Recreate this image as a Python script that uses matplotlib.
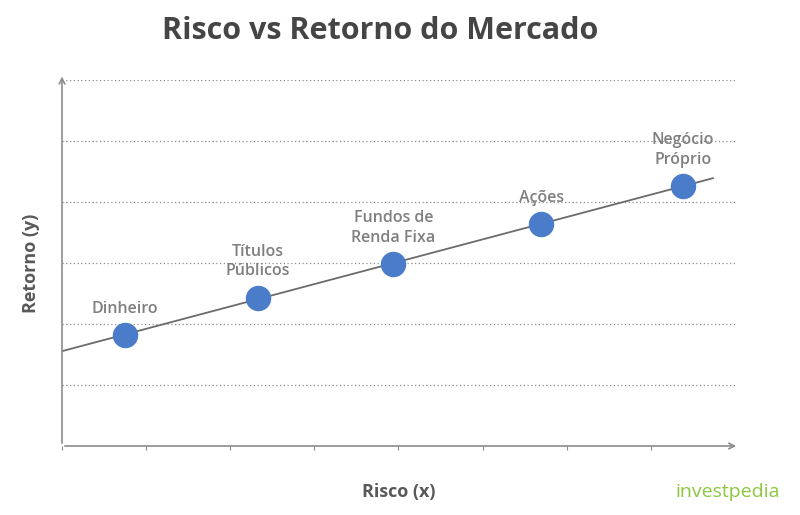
import matplotlib
matplotlib.use("Agg")
import matplotlib.pyplot as plt
import numpy as np

categories = ["Dinheiro", "Títulos\nPúblicos", "Fundos de\nRenda Fixa", "Ações", "Negócio\nPróprio"]
risco = [0.75, 2.33, 3.94, 5.7, 7.38]
retorno = [1.82, 2.43, 2.98, 3.64, 4.26]

plt.rcParams['font.family'] = ['Open Sans', 'DejaVu Sans']
fig = plt.figure(figsize=(8, 5.15), dpi=100)
ax = fig.add_axes([0.0775, 0.134, 0.841, 0.711])
ax.set_xlim(0, 8)
ax.set_ylim(0, 6)

for y in range(1, 7):
    ax.axhline(y, color='#8c8c8c', lw=0.9, ls=(0, (1, 2)), zorder=1)

m, b = np.polyfit(risco, retorno, 1)
xs = np.array([0, 7.74])
ax.plot(xs, m * xs + b, color='#6b6b6b', lw=1.3, zorder=2)
ax.scatter(risco, retorno, s=300, color='#4a7cc9', zorder=3)

for x, y, lab in zip(risco, retorno, categories):
    ax.text(x, y + 0.3, lab, ha='center', va='bottom', fontsize=11.5,
            color='#7f7f7f', linespacing=1.3, fontweight='semibold')

for s in ax.spines.values():
    s.set_visible(False)
ax.annotate('', xy=(8.05, 0), xytext=(0, 0), xycoords='data',
            arrowprops=dict(arrowstyle='->', color='#8c8c8c', lw=1.2), annotation_clip=False)
ax.annotate('', xy=(0, 6.1), xytext=(0, 0),
            arrowprops=dict(arrowstyle='->', color='#8c8c8c', lw=1.2), annotation_clip=False)
ax.set_xticks(np.arange(0, 8, 1))
ax.set_xticklabels([])
ax.set_yticks([])
ax.tick_params(axis='x', length=3, color='#8c8c8c', direction='out')

ax.set_xlabel('Risco (x)', fontsize=13, fontweight='bold', color='#595959', labelpad=20)
ax.set_ylabel('Retorno (y)', fontsize=13, fontweight='bold', color='#595959', labelpad=16)
fig.text(0.475, 0.94, 'Risco vs Retorno do Mercado', ha='center', va='center',
         fontsize=22, fontweight='bold', color='#454545')
fig.text(0.975, 0.045, 'investpedia', ha='right', va='center', fontsize=14, color='#8cc63f')
fig.savefig('out.png', dpi=100)
